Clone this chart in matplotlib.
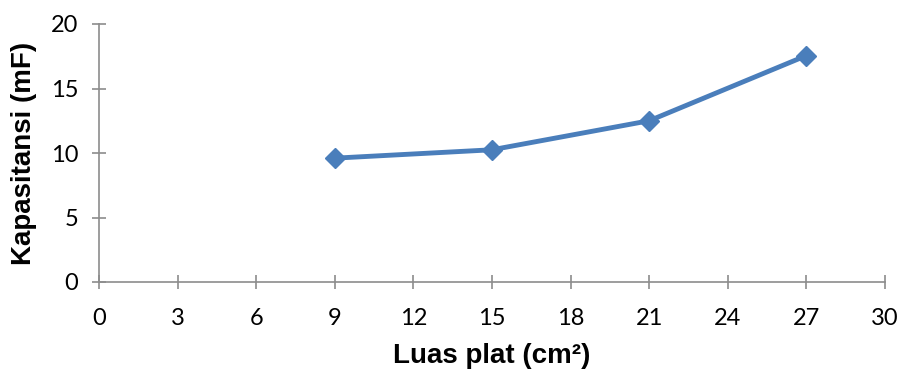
import matplotlib
matplotlib.use('Agg')
import matplotlib.pyplot as plt

# Luas plat (cm^2) vs kapasitansi (mF)
luas = [9, 15, 21, 27]
kapasitansi = [9.6, 10.25, 12.5, 17.55]

x_ticks = [0, 3, 6, 9, 12, 15, 18, 21, 24, 27, 30]
y_ticks = [0, 5, 10, 15, 20]

LINE_COLOR = '#4A7EBB'
AXIS_COLOR = '#8C8C8C'

fig = plt.figure(figsize=(9.01, 3.70), dpi=100)
ax = fig.add_axes([99 / 901, 1 - 282 / 370, (885 - 99) / 901, (282 - 24) / 370])

ax.plot(luas, kapasitansi, color=LINE_COLOR, lw=3.5, marker='D', ms=10,
        mfc=LINE_COLOR, mec=LINE_COLOR, solid_capstyle='round', zorder=3)

ax.set_xlim(0, 30)
ax.set_ylim(0, 20)
ax.set_xticks(x_ticks)
ax.set_yticks(y_ticks)

for side in ('top', 'right'):
    ax.spines[side].set_visible(False)
for side in ('left', 'bottom'):
    ax.spines[side].set_color(AXIS_COLOR)
    ax.spines[side].set_linewidth(1.2)

ax.tick_params(axis='both', direction='inout', length=10, width=1.2,
               color=AXIS_COLOR, labelsize=17, labelcolor='black')
ax.tick_params(axis='x', pad=14)
ax.tick_params(axis='y', pad=10)
for lbl in ax.get_xticklabels() + ax.get_yticklabels():
    lbl.set_family(['Lato', 'DejaVu Sans'])

ax.set_xlabel('Luas plat (cm²)', fontsize=20, fontweight='bold',
              family=['Liberation Sans', 'DejaVu Sans'], labelpad=10)
ax.set_ylabel('Kapasitansi (mF)', fontsize=20, fontweight='bold',
              family=['Liberation Sans', 'DejaVu Sans'], labelpad=10)

fig.savefig('out.png', dpi=100)
